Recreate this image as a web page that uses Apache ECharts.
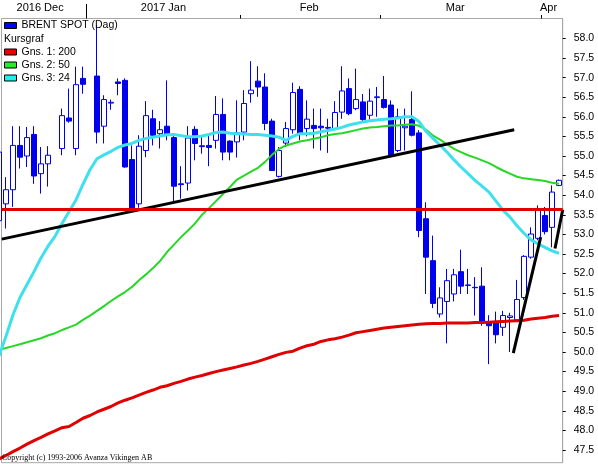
<!DOCTYPE html>
<html><head><meta charset="utf-8">
<script src="https://cdn.jsdelivr.net/npm/echarts@6/dist/echarts.min.js"></script>
<style>html,body{margin:0;padding:0;background:#fff}#c{width:598px;height:464px}</style>
</head><body><div id="c"></div>
<script>
// trading days (one slot each; holidays kept as empty slots)
const dates = [
 '2016-12-14','2016-12-15','2016-12-16','2016-12-19','2016-12-20','2016-12-21','2016-12-22','2016-12-23','2016-12-26','2016-12-27','2016-12-28','2016-12-29','2016-12-30',
 '2017-01-02','2017-01-03','2017-01-04','2017-01-05','2017-01-06','2017-01-09','2017-01-10','2017-01-11','2017-01-12','2017-01-13','2017-01-16','2017-01-17','2017-01-18','2017-01-19','2017-01-20','2017-01-23','2017-01-24','2017-01-25','2017-01-26','2017-01-27','2017-01-30','2017-01-31',
 '2017-02-01','2017-02-02','2017-02-03','2017-02-06','2017-02-07','2017-02-08','2017-02-09','2017-02-10','2017-02-13','2017-02-14','2017-02-15','2017-02-16','2017-02-17','2017-02-20','2017-02-21','2017-02-22','2017-02-23','2017-02-24','2017-02-27','2017-02-28',
 '2017-03-01','2017-03-02','2017-03-03','2017-03-06','2017-03-07','2017-03-08','2017-03-09','2017-03-10','2017-03-13','2017-03-14','2017-03-15','2017-03-16','2017-03-17','2017-03-20','2017-03-21','2017-03-22','2017-03-23','2017-03-24','2017-03-27','2017-03-28','2017-03-29','2017-03-30','2017-03-31',
 '2017-04-03','2017-04-04','2017-04-05'];

const openP = [53.35,53.78,54.14,55.27,55.00,55.55,54.55,54.80,null,55.19,55.97,55.19,56.98,
 null,57.04,55.76,56.35,56.89,56.93,54.91,53.78,55.14,55.95,55.57,55.76,55.47,54.29,54.31,55.68,55.26,55.27,55.40,56.06,55.38,55.36,
 55.61,56.59,56.91,56.76,55.89,54.48,55.33,55.67,56.70,55.70,55.78,55.76,55.73,55.70,56.12,56.72,56.21,56.38,56.04,56.49,
 56.44,56.30,55.14,55.72,55.93,55.59,53.40,52.33,50.97,51.29,51.48,52.05,51.71,51.65,51.68,50.77,50.76,50.63,50.88,50.82,51.39,52.42,52.90,
 53.48,53.18,54.25];
const closeP = [55.10,54.14,55.27,54.97,55.47,54.49,54.80,55.02,null,56.03,55.89,56.82,56.83,
 null,55.61,56.44,56.37,56.85,54.72,53.65,55.25,56.03,55.53,55.67,55.57,54.23,54.27,55.46,55.32,55.24,55.22,56.06,55.10,55.10,55.59,
 56.34,56.68,56.76,55.83,54.63,55.14,55.70,56.62,55.57,55.94,55.70,55.72,55.71,56.11,56.66,56.08,56.44,55.93,56.40,56.51,
 56.24,55.02,56.00,55.76,55.53,53.10,52.42,51.24,51.38,51.82,51.97,51.68,51.70,51.64,50.77,50.67,50.44,50.93,50.92,51.34,52.44,53.01,53.65,
 53.07,54.08,54.38];
const lowP = [53.25,53.15,53.70,54.68,54.72,54.29,54.04,54.22,null,55.02,55.85,55.02,56.59,
 null,55.32,55.32,56.18,56.55,54.70,53.60,53.68,54.97,55.27,55.19,55.40,53.82,53.91,54.12,54.89,55.06,54.74,55.19,54.89,54.89,54.96,
 55.40,56.36,56.51,55.66,54.62,54.45,55.23,55.57,55.40,55.50,55.19,55.14,55.08,55.66,55.95,56.04,56.17,55.89,55.93,56.00,
 56.21,55.00,55.10,55.14,55.50,52.93,51.48,51.12,50.88,50.22,51.29,51.48,51.48,50.93,50.67,49.69,50.22,50.41,50.00,50.78,51.33,52.38,52.85,
 53.00,52.67,54.23];
const highP = [55.15,54.46,55.76,55.76,55.74,55.76,55.23,55.25,null,56.21,56.72,57.28,57.28,
 null,58.34,56.55,56.44,56.98,56.98,55.27,55.53,56.40,56.18,55.89,56.93,55.57,54.74,55.76,55.76,55.53,55.53,56.53,56.47,55.40,56.42,
 56.68,57.42,57.29,57.11,55.95,55.23,55.87,56.87,56.78,56.42,56.21,56.21,55.95,56.40,57.29,56.98,57.23,56.58,56.72,56.76,
 57.04,56.42,56.21,56.21,56.65,55.66,53.82,52.97,51.65,52.12,52.12,52.61,52.12,51.91,52.16,50.94,51.03,51.05,51.00,51.84,52.47,53.18,53.74,
 53.70,54.25,54.40];

// moving averages, one value per slot
const ma200 = [47.27,47.36,47.46,47.55,47.65,47.74,47.82,47.91,47.99,48.07,48.10,48.20,48.31,
 48.38,48.47,48.54,48.61,48.70,48.77,48.83,48.90,48.97,49.03,49.10,49.14,49.20,49.25,49.31,49.36,49.40,49.45,49.50,49.54,49.58,49.62,
 49.67,49.71,49.76,49.82,49.88,49.94,49.99,50.02,50.10,50.16,50.20,50.27,50.31,50.34,50.38,50.43,50.49,50.52,50.55,50.58,
 50.61,50.63,50.65,50.67,50.69,50.71,50.72,50.73,50.73,50.74,50.74,50.74,50.74,50.75,50.75,50.76,50.77,50.78,50.79,50.80,50.81,50.84,50.86,
 50.88,50.91,50.93];
const ma50 = [50.05,50.10,50.15,50.20,50.25,50.30,50.35,50.42,50.48,50.56,50.63,50.70,50.82,
 50.93,51.05,51.17,51.30,51.42,51.53,51.66,51.83,51.98,52.14,52.32,52.55,52.74,52.93,53.10,53.28,53.50,53.67,53.85,54.03,54.21,54.40,
 54.50,54.60,54.70,54.85,55.03,55.18,55.27,55.32,55.37,55.40,55.44,55.48,55.53,55.56,55.58,55.62,55.66,55.70,55.73,55.74,
 55.76,55.78,55.78,55.80,55.81,55.77,55.67,55.52,55.42,55.30,55.18,55.10,55.02,54.96,54.89,54.82,54.72,54.63,54.55,54.47,54.43,54.41,54.39,
 54.36,54.32,54.29];
const ma24 = [49.90,50.40,50.95,51.39,51.72,52.05,52.40,52.70,52.95,53.28,53.58,53.88,54.28,
 54.65,54.93,55.03,55.12,55.22,55.28,55.32,55.40,55.45,55.48,55.51,55.54,55.55,55.52,55.49,55.49,55.51,55.55,55.60,55.61,55.58,55.57,
 55.56,55.55,55.55,55.53,55.51,55.48,55.40,55.50,55.57,55.57,55.58,55.62,55.65,55.69,55.73,55.79,55.83,55.87,55.90,55.92,
 55.94,55.95,55.97,56.00,56.00,55.88,55.63,55.45,55.28,55.10,54.90,54.72,54.55,54.38,54.23,54.08,53.85,53.62,53.44,53.22,53.03,52.86,52.76,
 52.67,52.58,52.52];

// user-drawn lines: [slot, price] end points, and the horizontal level
const trendUp = [[0.39, 52.88], [73.6, 55.67]];
const trendRebound = [[73.47, 49.97], [77.39, 52.93]];
const trendLast = [[79.43, 52.64], [80.53, 53.63]];
const levelLine = 53.65;

// axis labels
const priceTicks = [47.5,48.0,48.5,49.0,49.5,50.0,50.5,51.0,51.5,52.0,52.5,53.0,53.5,54.0,54.5,55.0,55.5,56.0,56.5,57.0,57.5,58.0];
const monthNames = ['2016 Dec','2017 Jan','Feb','Mar','Apr'];
const monthLabelSlots = [5.87, 23.49, 44.31, 65.17, 78.5];
const monthBoundaries = [34.5, 54.5, 77.5];
const yearBoundary = [12.5];

const candleData = [];
for (let i = 0; i < dates.length; i++) {
  if (openP[i] == null) continue;
  candleData.push([i, openP[i], closeP[i], lowP[i], highP[i]]);
}
const asLine = arr => arr.map((v, i) => [i, v]);

const X_MIN = 0.357, X_MAX = 80.529;
const Y_MIN = 47.176, Y_MAX = 58.508;
const BLUE = '#0000ee';
const FONT = 'Liberation Sans';

const chart = echarts.init(document.getElementById('c'), null, {renderer: 'canvas'});
chart.setOption({
  animation: false,
  backgroundColor: '#fff',
  title: [
    {text: 'Kursgraf', left: 4, top: 32.5, padding: 0,
     textStyle: {fontSize: 10.5, fontWeight: 'normal', color: '#000', fontFamily: FONT, lineHeight: 13}},
    {text: 'Copyright (c) 1993-2006 Avanza Vikingen AB', left: 2, top: 452.5, padding: 0, z: 10,
     textStyle: {fontSize: 8, fontWeight: 'normal', color: '#000', fontFamily: 'Liberation Serif', lineHeight: 10}}
  ],
  legend: [
    {orient: 'vertical', left: 4, top: 19, padding: 0, itemGap: 0, itemWidth: 12, itemHeight: 6,
     selectedMode: false,
     textStyle: {fontSize: 10.5, color: '#000', fontFamily: FONT, lineHeight: 13},
     data: [{name: 'BRENT SPOT (Dag)', icon: 'rect', itemStyle: {color: '#0000ff', borderColor: '#000', borderWidth: 1}}]},
    {orient: 'vertical', left: 4, top: 45.5, padding: 0, itemGap: 0, itemWidth: 12, itemHeight: 6,
     selectedMode: false,
     textStyle: {fontSize: 10.5, color: '#000', fontFamily: FONT, lineHeight: 13},
     data: [
       {name: 'Gns. 1: 200', icon: 'rect', itemStyle: {color: '#ee0000', borderColor: '#000', borderWidth: 1}},
       {name: 'Gns. 2: 50', icon: 'rect', itemStyle: {color: '#22ee22', borderColor: '#000', borderWidth: 1}},
       {name: 'Gns. 3: 24', icon: 'rect', itemStyle: {color: '#22eeee', borderColor: '#000', borderWidth: 1}}
     ]}
  ],
  grid: {left: 1.5, right: 35.3, top: 18.5, bottom: 1.3, show: true, borderColor: '#a8a8a8', borderWidth: 1,
         backgroundColor: '#fff', containLabel: false, outerBoundsMode: 'none'},
  xAxis: [
    {type: 'value', min: X_MIN, max: X_MAX, position: 'bottom', show: false},
    {type: 'value', min: X_MIN, max: X_MAX, position: 'top',
     axisLine: {show: false}, splitLine: {show: false},
     axisTick: {show: true, length: 3.5, customValues: monthBoundaries, lineStyle: {color: '#000'}},
     axisLabel: {show: true, customValues: monthLabelSlots, margin: 5, color: '#000', fontSize: 11, fontFamily: FONT,
       formatter: v => { const k = monthLabelSlots.findIndex(s => Math.abs(s - v) < 1e-6); return k >= 0 ? monthNames[k] : ''; }}},
    {type: 'value', min: X_MIN, max: X_MAX, position: 'top',
     axisLine: {show: false}, splitLine: {show: false}, axisLabel: {show: false},
     axisTick: {show: true, length: 14.5, customValues: yearBoundary, lineStyle: {color: '#000'}}}
  ],
  yAxis: {type: 'value', position: 'right', min: Y_MIN, max: Y_MAX, scale: true,
    splitLine: {show: false},
    axisLine: {show: true, lineStyle: {color: '#a8a8a8'}},
    axisTick: {show: true, length: 3, customValues: priceTicks, lineStyle: {color: '#000'}},
    axisLabel: {customValues: priceTicks, margin: 11, color: '#000', fontSize: 10.5, fontFamily: FONT,
      formatter: v => v.toFixed(1)}},
  series: [
    {type: 'candlestick', name: 'BRENT SPOT (Dag)', xAxisIndex: 0, yAxisIndex: 0, clip: false,
     data: candleData, encode: {x: 0, y: [1, 2, 3, 4]}, barWidth: 5, z: 2,
     itemStyle: {color: '#ffffff', color0: BLUE, borderColor: BLUE, borderColor0: BLUE, borderColorDoji: BLUE, borderWidth: 1}},
    {type: 'line', name: 'Gns. 1: 200', data: asLine(ma200), symbol: 'none', z: 3,
     itemStyle: {color: '#ee0000'}, lineStyle: {color: '#e00000', width: 3}},
    {type: 'line', name: 'Gns. 2: 50', data: asLine(ma50), symbol: 'none', z: 3,
     itemStyle: {color: '#22ee22'}, lineStyle: {color: '#26d826', width: 2}},
    {type: 'line', name: 'Gns. 3: 24', data: asLine(ma24), symbol: 'none', z: 3,
     itemStyle: {color: '#22eeee'}, lineStyle: {color: '#3ee0ee', width: 3}},
    {type: 'line', name: 'trend1', data: trendUp, symbol: 'none', z: 4,
     lineStyle: {color: '#000', width: 3},
     markLine: {silent: true, symbol: 'none', label: {show: false},
       lineStyle: {color: '#e00000', width: 3, type: 'solid'}, data: [{yAxis: levelLine}]}},
    {type: 'line', name: 'trend2', data: trendRebound, symbol: 'none', z: 4, lineStyle: {color: '#000', width: 3}},
    {type: 'line', name: 'trend3', data: trendLast, symbol: 'none', z: 4, lineStyle: {color: '#000', width: 3}}
  ]
});
</script>
</body></html>
